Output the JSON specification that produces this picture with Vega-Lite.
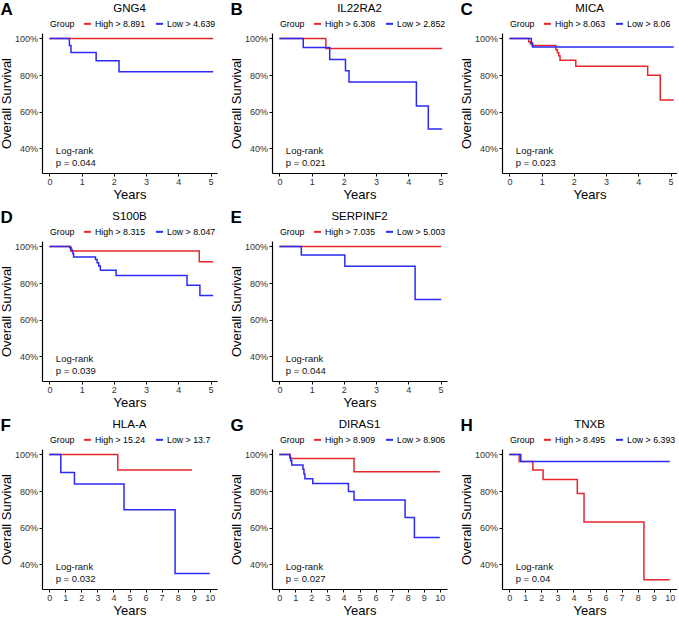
{
  "$schema": "https://vega.github.io/schema/vega-lite/v6.json",
  "background": "white",
  "padding": {"left": 0, "top": 0, "right": 0, "bottom": 0},
  "config": {
    "font": "Liberation Sans",
    "view": {"stroke": null},
    "axis": {"grid": false, "domainColor": "#000", "domainWidth": 1.2, "tickColor": "#000", "tickSize": 3, "labelFontSize": 9, "labelColor": "#333", "titleFontSize": 13, "titleFontWeight": "normal", "titleColor": "#000", "labelOverlap": false, "labelFlush": false},
    "axisX": {"titlePadding": 1.5, "labelPadding": 1.5},
    "axisY": {"titlePadding": 1, "labelPadding": 1.5},
    "title": {"fontSize": 11.5, "fontWeight": "normal", "offset": 5, "color": "#000"},
    "legend": {"direction": "horizontal", "titleOrient": "left", "titleFontSize": 8.8, "titleFontWeight": "normal", "labelFontSize": 8.8, "symbolType": "stroke", "symbolStrokeWidth": 2, "symbolSize": 49, "titlePadding": 8, "columnPadding": 6, "labelOffset": 3, "labelColor": "#000", "titleColor": "#000"},
    "concat": {"spacing": 13}
  },
  "resolve": {"scale": {"color": "independent"}, "legend": {"color": "independent"}},
  "spacing": 7,
  "vconcat": [
    {
      "resolve": {"scale": {"color": "independent"}, "legend": {"color": "independent"}},
      "hconcat": [
        {
          "title": {"text": "A", "anchor": "start", "fontSize": 17, "fontWeight": "bold", "offset": -16, "frame": "bounds"},
          "resolve": {"scale": {"color": "independent"}, "legend": {"color": "independent"}},
          "vconcat": [{
            "title": "GNG4", "width": 175, "height": 140,
            "layer": [
              {
                "data": {"values": [
                  {"time": 0, "surv": 1, "group": "High > 8.891"}, {"time": 5.08, "surv": 1, "group": "High > 8.891"},
                  {"time": 0, "surv": 1, "group": "Low > 4.639"}, {"time": 0.62, "surv": 0.962, "group": "Low > 4.639"}, {"time": 0.67, "surv": 0.924, "group": "Low > 4.639"}, {"time": 1.45, "surv": 0.878, "group": "Low > 4.639"}, {"time": 2.16, "surv": 0.818, "group": "Low > 4.639"}, {"time": 5.08, "surv": 0.818, "group": "Low > 4.639"}
                ]},
                "mark": {"type": "line", "interpolate": "step-after", "strokeWidth": 1.5},
                "encoding": {
                  "x": {"field": "time", "type": "quantitative", "title": "Years", "scale": {"domain": [-0.23, 5.2], "nice": false, "zero": false}, "axis": {"values": [0, 1, 2, 3, 4, 5], "format": "d"}},
                  "y": {"field": "surv", "type": "quantitative", "title": "Overall Survival", "scale": {"domain": [0.265, 1.03], "nice": false, "zero": false}, "axis": {"values": [0.4, 0.6, 0.8, 1.0], "format": ".0%"}},
                  "color": {"field": "group", "type": "nominal", "title": "Group", "scale": {"domain": ["High > 8.891", "Low > 4.639"], "range": ["#E8262B", "#2B2BF5"]}, "legend": {"orient": "none", "legendX": 8, "legendY": -14}}
                }
              },
              {
                "data": {"values": [{"note": "Log-rank\np = 0.044"}]},
                "mark": {"type": "text", "align": "left", "baseline": "top", "lineBreak": "\n", "fontSize": 9.5, "lineHeight": 12, "color": "#111"},
                "encoding": {"text": {"field": "note"},
                  "x": {"datum": 0.2, "type": "quantitative", "title": "Years", "axis": {"values": [0, 1, 2, 3, 4, 5], "format": "d"}},
                  "y": {"datum": 0.41, "type": "quantitative", "title": "Overall Survival", "axis": {"values": [0.4, 0.6, 0.8, 1.0], "format": ".0%"}}}
              }
            ]
          }]
        },
        {
          "title": {"text": "B", "anchor": "start", "fontSize": 17, "fontWeight": "bold", "offset": -16, "frame": "bounds"},
          "resolve": {"scale": {"color": "independent"}, "legend": {"color": "independent"}},
          "vconcat": [{
            "title": "IL22RA2", "width": 175, "height": 140,
            "layer": [
              {
                "data": {"values": [
                  {"time": 0, "surv": 1, "group": "High > 6.308"}, {"time": 1.44, "surv": 0.945, "group": "High > 6.308"}, {"time": 5.05, "surv": 0.945, "group": "High > 6.308"},
                  {"time": 0, "surv": 1, "group": "Low > 2.852"}, {"time": 0.74, "surv": 0.951, "group": "Low > 2.852"}, {"time": 1.56, "surv": 0.885, "group": "Low > 2.852"}, {"time": 2.05, "surv": 0.824, "group": "Low > 2.852"}, {"time": 2.16, "surv": 0.762, "group": "Low > 2.852"}, {"time": 4.25, "surv": 0.631, "group": "Low > 2.852"}, {"time": 4.62, "surv": 0.505, "group": "Low > 2.852"}, {"time": 5.05, "surv": 0.505, "group": "Low > 2.852"}
                ]},
                "mark": {"type": "line", "interpolate": "step-after", "strokeWidth": 1.5},
                "encoding": {
                  "x": {"field": "time", "type": "quantitative", "title": "Years", "scale": {"domain": [-0.23, 5.2], "nice": false, "zero": false}, "axis": {"values": [0, 1, 2, 3, 4, 5], "format": "d"}},
                  "y": {"field": "surv", "type": "quantitative", "title": "Overall Survival", "scale": {"domain": [0.265, 1.03], "nice": false, "zero": false}, "axis": {"values": [0.4, 0.6, 0.8, 1.0], "format": ".0%"}},
                  "color": {"field": "group", "type": "nominal", "title": "Group", "scale": {"domain": ["High > 6.308", "Low > 2.852"], "range": ["#E8262B", "#2B2BF5"]}, "legend": {"orient": "none", "legendX": 8, "legendY": -14}}
                }
              },
              {
                "data": {"values": [{"note": "Log-rank\np = 0.021"}]},
                "mark": {"type": "text", "align": "left", "baseline": "top", "lineBreak": "\n", "fontSize": 9.5, "lineHeight": 12, "color": "#111"},
                "encoding": {"text": {"field": "note"},
                  "x": {"datum": 0.2, "type": "quantitative", "title": "Years", "axis": {"values": [0, 1, 2, 3, 4, 5], "format": "d"}},
                  "y": {"datum": 0.41, "type": "quantitative", "title": "Overall Survival", "axis": {"values": [0.4, 0.6, 0.8, 1.0], "format": ".0%"}}}
              }
            ]
          }]
        },
        {
          "title": {"text": "C", "anchor": "start", "fontSize": 17, "fontWeight": "bold", "offset": -16, "frame": "bounds"},
          "resolve": {"scale": {"color": "independent"}, "legend": {"color": "independent"}},
          "vconcat": [{
            "title": "MICA", "width": 175, "height": 140,
            "layer": [
              {
                "data": {"values": [
                  {"time": 0, "surv": 1, "group": "High > 8.063"}, {"time": 0.6, "surv": 0.982, "group": "High > 8.063"}, {"time": 0.65, "surv": 0.971, "group": "High > 8.063"}, {"time": 0.7, "surv": 0.962, "group": "High > 8.063"}, {"time": 1.44, "surv": 0.939, "group": "High > 8.063"}, {"time": 1.49, "surv": 0.922, "group": "High > 8.063"}, {"time": 1.53, "surv": 0.906, "group": "High > 8.063"}, {"time": 1.57, "surv": 0.881, "group": "High > 8.063"}, {"time": 2.06, "surv": 0.848, "group": "High > 8.063"}, {"time": 4.29, "surv": 0.799, "group": "High > 8.063"}, {"time": 4.68, "surv": 0.664, "group": "High > 8.063"}, {"time": 5.1, "surv": 0.664, "group": "High > 8.063"},
                  {"time": 0, "surv": 1, "group": "Low > 8.06"}, {"time": 0.68, "surv": 0.976, "group": "Low > 8.06"}, {"time": 0.72, "surv": 0.953, "group": "Low > 8.06"}, {"time": 5.1, "surv": 0.953, "group": "Low > 8.06"}
                ]},
                "mark": {"type": "line", "interpolate": "step-after", "strokeWidth": 1.5},
                "encoding": {
                  "x": {"field": "time", "type": "quantitative", "title": "Years", "scale": {"domain": [-0.23, 5.2], "nice": false, "zero": false}, "axis": {"values": [0, 1, 2, 3, 4, 5], "format": "d"}},
                  "y": {"field": "surv", "type": "quantitative", "title": "Overall Survival", "scale": {"domain": [0.265, 1.03], "nice": false, "zero": false}, "axis": {"values": [0.4, 0.6, 0.8, 1.0], "format": ".0%"}},
                  "color": {"field": "group", "type": "nominal", "title": "Group", "scale": {"domain": ["High > 8.063", "Low > 8.06"], "range": ["#E8262B", "#2B2BF5"]}, "legend": {"orient": "none", "legendX": 8, "legendY": -14}}
                }
              },
              {
                "data": {"values": [{"note": "Log-rank\np = 0.023"}]},
                "mark": {"type": "text", "align": "left", "baseline": "top", "lineBreak": "\n", "fontSize": 9.5, "lineHeight": 12, "color": "#111"},
                "encoding": {"text": {"field": "note"},
                  "x": {"datum": 0.2, "type": "quantitative", "title": "Years", "axis": {"values": [0, 1, 2, 3, 4, 5], "format": "d"}},
                  "y": {"datum": 0.41, "type": "quantitative", "title": "Overall Survival", "axis": {"values": [0.4, 0.6, 0.8, 1.0], "format": ".0%"}}}
              }
            ]
          }]
        }
      ]
    },
    {
      "resolve": {"scale": {"color": "independent"}, "legend": {"color": "independent"}},
      "hconcat": [
        {
          "title": {"text": "D", "anchor": "start", "fontSize": 17, "fontWeight": "bold", "offset": -16, "frame": "bounds"},
          "resolve": {"scale": {"color": "independent"}, "legend": {"color": "independent"}},
          "vconcat": [{
            "title": "S100B", "width": 175, "height": 140,
            "layer": [
              {
                "data": {"values": [
                  {"time": 0, "surv": 1, "group": "High > 8.315"}, {"time": 0.66, "surv": 0.976, "group": "High > 8.315"}, {"time": 4.65, "surv": 0.917, "group": "High > 8.315"}, {"time": 5.08, "surv": 0.917, "group": "High > 8.315"},
                  {"time": 0, "surv": 1, "group": "Low > 8.047"}, {"time": 0.63, "surv": 0.993, "group": "Low > 8.047"}, {"time": 0.67, "surv": 0.984, "group": "Low > 8.047"}, {"time": 0.7, "surv": 0.975, "group": "Low > 8.047"}, {"time": 0.73, "surv": 0.96, "group": "Low > 8.047"}, {"time": 0.75, "surv": 0.942, "group": "Low > 8.047"}, {"time": 1.43, "surv": 0.929, "group": "Low > 8.047"}, {"time": 1.48, "surv": 0.911, "group": "Low > 8.047"}, {"time": 1.53, "surv": 0.893, "group": "Low > 8.047"}, {"time": 1.58, "surv": 0.87, "group": "Low > 8.047"}, {"time": 2.07, "surv": 0.842, "group": "Low > 8.047"}, {"time": 4.27, "surv": 0.788, "group": "Low > 8.047"}, {"time": 4.67, "surv": 0.732, "group": "Low > 8.047"}, {"time": 5.08, "surv": 0.732, "group": "Low > 8.047"}
                ]},
                "mark": {"type": "line", "interpolate": "step-after", "strokeWidth": 1.5},
                "encoding": {
                  "x": {"field": "time", "type": "quantitative", "title": "Years", "scale": {"domain": [-0.23, 5.2], "nice": false, "zero": false}, "axis": {"values": [0, 1, 2, 3, 4, 5], "format": "d"}},
                  "y": {"field": "surv", "type": "quantitative", "title": "Overall Survival", "scale": {"domain": [0.265, 1.03], "nice": false, "zero": false}, "axis": {"values": [0.4, 0.6, 0.8, 1.0], "format": ".0%"}},
                  "color": {"field": "group", "type": "nominal", "title": "Group", "scale": {"domain": ["High > 8.315", "Low > 8.047"], "range": ["#E8262B", "#2B2BF5"]}, "legend": {"orient": "none", "legendX": 8, "legendY": -14}}
                }
              },
              {
                "data": {"values": [{"note": "Log-rank\np = 0.039"}]},
                "mark": {"type": "text", "align": "left", "baseline": "top", "lineBreak": "\n", "fontSize": 9.5, "lineHeight": 12, "color": "#111"},
                "encoding": {"text": {"field": "note"},
                  "x": {"datum": 0.2, "type": "quantitative", "title": "Years", "axis": {"values": [0, 1, 2, 3, 4, 5], "format": "d"}},
                  "y": {"datum": 0.41, "type": "quantitative", "title": "Overall Survival", "axis": {"values": [0.4, 0.6, 0.8, 1.0], "format": ".0%"}}}
              }
            ]
          }]
        },
        {
          "title": {"text": "E", "anchor": "start", "fontSize": 17, "fontWeight": "bold", "offset": -16, "frame": "bounds"},
          "resolve": {"scale": {"color": "independent"}, "legend": {"color": "independent"}},
          "vconcat": [{
            "title": "SERPINF2", "width": 175, "height": 140,
            "layer": [
              {
                "data": {"values": [
                  {"time": 0, "surv": 1, "group": "High > 7.035"}, {"time": 5.02, "surv": 1, "group": "High > 7.035"},
                  {"time": 0, "surv": 1, "group": "Low > 5.003"}, {"time": 0.68, "surv": 0.954, "group": "Low > 5.003"}, {"time": 2.03, "surv": 0.892, "group": "Low > 5.003"}, {"time": 4.21, "surv": 0.71, "group": "Low > 5.003"}, {"time": 5.02, "surv": 0.71, "group": "Low > 5.003"}
                ]},
                "mark": {"type": "line", "interpolate": "step-after", "strokeWidth": 1.5},
                "encoding": {
                  "x": {"field": "time", "type": "quantitative", "title": "Years", "scale": {"domain": [-0.23, 5.2], "nice": false, "zero": false}, "axis": {"values": [0, 1, 2, 3, 4, 5], "format": "d"}},
                  "y": {"field": "surv", "type": "quantitative", "title": "Overall Survival", "scale": {"domain": [0.265, 1.03], "nice": false, "zero": false}, "axis": {"values": [0.4, 0.6, 0.8, 1.0], "format": ".0%"}},
                  "color": {"field": "group", "type": "nominal", "title": "Group", "scale": {"domain": ["High > 7.035", "Low > 5.003"], "range": ["#E8262B", "#2B2BF5"]}, "legend": {"orient": "none", "legendX": 8, "legendY": -14}}
                }
              },
              {
                "data": {"values": [{"note": "Log-rank\np = 0.044"}]},
                "mark": {"type": "text", "align": "left", "baseline": "top", "lineBreak": "\n", "fontSize": 9.5, "lineHeight": 12, "color": "#111"},
                "encoding": {"text": {"field": "note"},
                  "x": {"datum": 0.2, "type": "quantitative", "title": "Years", "axis": {"values": [0, 1, 2, 3, 4, 5], "format": "d"}},
                  "y": {"datum": 0.41, "type": "quantitative", "title": "Overall Survival", "axis": {"values": [0.4, 0.6, 0.8, 1.0], "format": ".0%"}}}
              }
            ]
          }]
        }
      ]
    },
    {
      "resolve": {"scale": {"color": "independent"}, "legend": {"color": "independent"}},
      "hconcat": [
        {
          "title": {"text": "F", "anchor": "start", "fontSize": 17, "fontWeight": "bold", "offset": -16, "frame": "bounds"},
          "resolve": {"scale": {"color": "independent"}, "legend": {"color": "independent"}},
          "vconcat": [{
            "title": "HLA-A", "width": 175, "height": 140,
            "layer": [
              {
                "data": {"values": [
                  {"time": 0, "surv": 1, "group": "High > 15.24"}, {"time": 4.27, "surv": 0.915, "group": "High > 15.24"}, {"time": 8.9, "surv": 0.915, "group": "High > 15.24"},
                  {"time": 0, "surv": 1, "group": "Low > 13.7"}, {"time": 0.72, "surv": 0.902, "group": "Low > 13.7"}, {"time": 1.57, "surv": 0.839, "group": "Low > 13.7"}, {"time": 4.66, "surv": 0.698, "group": "Low > 13.7"}, {"time": 7.84, "surv": 0.35, "group": "Low > 13.7"}, {"time": 10.0, "surv": 0.35, "group": "Low > 13.7"}
                ]},
                "mark": {"type": "line", "interpolate": "step-after", "strokeWidth": 1.5},
                "encoding": {
                  "x": {"field": "time", "type": "quantitative", "title": "Years", "scale": {"domain": [-0.45, 10.45], "nice": false, "zero": false}, "axis": {"values": [0, 1, 2, 3, 4, 5, 6, 7, 8, 9, 10], "format": "d"}},
                  "y": {"field": "surv", "type": "quantitative", "title": "Overall Survival", "scale": {"domain": [0.265, 1.03], "nice": false, "zero": false}, "axis": {"values": [0.4, 0.6, 0.8, 1.0], "format": ".0%"}},
                  "color": {"field": "group", "type": "nominal", "title": "Group", "scale": {"domain": ["High > 15.24", "Low > 13.7"], "range": ["#E8262B", "#2B2BF5"]}, "legend": {"orient": "none", "legendX": 8, "legendY": -14}}
                }
              },
              {
                "data": {"values": [{"note": "Log-rank\np = 0.032"}]},
                "mark": {"type": "text", "align": "left", "baseline": "top", "lineBreak": "\n", "fontSize": 9.5, "lineHeight": 12, "color": "#111"},
                "encoding": {"text": {"field": "note"},
                  "x": {"datum": 0.4, "type": "quantitative", "title": "Years", "axis": {"values": [0, 1, 2, 3, 4, 5, 6, 7, 8, 9, 10], "format": "d"}},
                  "y": {"datum": 0.41, "type": "quantitative", "title": "Overall Survival", "axis": {"values": [0.4, 0.6, 0.8, 1.0], "format": ".0%"}}}
              }
            ]
          }]
        },
        {
          "title": {"text": "G", "anchor": "start", "fontSize": 17, "fontWeight": "bold", "offset": -16, "frame": "bounds"},
          "resolve": {"scale": {"color": "independent"}, "legend": {"color": "independent"}},
          "vconcat": [{
            "title": "DIRAS1", "width": 175, "height": 140,
            "layer": [
              {
                "data": {"values": [
                  {"time": 0, "surv": 1, "group": "High > 8.909"}, {"time": 0.68, "surv": 0.978, "group": "High > 8.909"}, {"time": 4.66, "surv": 0.906, "group": "High > 8.909"}, {"time": 10.0, "surv": 0.906, "group": "High > 8.909"},
                  {"time": 0, "surv": 1, "group": "Low > 8.906"}, {"time": 0.66, "surv": 0.984, "group": "Low > 8.906"}, {"time": 0.72, "surv": 0.966, "group": "Low > 8.906"}, {"time": 0.78, "surv": 0.942, "group": "Low > 8.906"}, {"time": 1.48, "surv": 0.92, "group": "Low > 8.906"}, {"time": 1.54, "surv": 0.893, "group": "Low > 8.906"}, {"time": 1.6, "surv": 0.868, "group": "Low > 8.906"}, {"time": 2.09, "surv": 0.841, "group": "Low > 8.906"}, {"time": 4.31, "surv": 0.798, "group": "Low > 8.906"}, {"time": 4.66, "surv": 0.751, "group": "Low > 8.906"}, {"time": 7.84, "surv": 0.656, "group": "Low > 8.906"}, {"time": 8.42, "surv": 0.547, "group": "Low > 8.906"}, {"time": 10.0, "surv": 0.547, "group": "Low > 8.906"}
                ]},
                "mark": {"type": "line", "interpolate": "step-after", "strokeWidth": 1.5},
                "encoding": {
                  "x": {"field": "time", "type": "quantitative", "title": "Years", "scale": {"domain": [-0.45, 10.45], "nice": false, "zero": false}, "axis": {"values": [0, 1, 2, 3, 4, 5, 6, 7, 8, 9, 10], "format": "d"}},
                  "y": {"field": "surv", "type": "quantitative", "title": "Overall Survival", "scale": {"domain": [0.265, 1.03], "nice": false, "zero": false}, "axis": {"values": [0.4, 0.6, 0.8, 1.0], "format": ".0%"}},
                  "color": {"field": "group", "type": "nominal", "title": "Group", "scale": {"domain": ["High > 8.909", "Low > 8.906"], "range": ["#E8262B", "#2B2BF5"]}, "legend": {"orient": "none", "legendX": 8, "legendY": -14}}
                }
              },
              {
                "data": {"values": [{"note": "Log-rank\np = 0.027"}]},
                "mark": {"type": "text", "align": "left", "baseline": "top", "lineBreak": "\n", "fontSize": 9.5, "lineHeight": 12, "color": "#111"},
                "encoding": {"text": {"field": "note"},
                  "x": {"datum": 0.4, "type": "quantitative", "title": "Years", "axis": {"values": [0, 1, 2, 3, 4, 5, 6, 7, 8, 9, 10], "format": "d"}},
                  "y": {"datum": 0.41, "type": "quantitative", "title": "Overall Survival", "axis": {"values": [0.4, 0.6, 0.8, 1.0], "format": ".0%"}}}
              }
            ]
          }]
        },
        {
          "title": {"text": "H", "anchor": "start", "fontSize": 17, "fontWeight": "bold", "offset": -16, "frame": "bounds"},
          "resolve": {"scale": {"color": "independent"}, "legend": {"color": "independent"}},
          "vconcat": [{
            "title": "TNXB", "width": 175, "height": 140,
            "layer": [
              {
                "data": {"values": [
                  {"time": 0, "surv": 1, "group": "High > 8.495"}, {"time": 0.62, "surv": 0.962, "group": "High > 8.495"}, {"time": 1.47, "surv": 0.915, "group": "High > 8.495"}, {"time": 2.11, "surv": 0.864, "group": "High > 8.495"}, {"time": 4.24, "surv": 0.787, "group": "High > 8.495"}, {"time": 4.66, "surv": 0.631, "group": "High > 8.495"}, {"time": 8.39, "surv": 0.315, "group": "High > 8.495"}, {"time": 10.0, "surv": 0.315, "group": "High > 8.495"},
                  {"time": 0, "surv": 1, "group": "Low > 6.393"}, {"time": 0.72, "surv": 0.962, "group": "Low > 6.393"}, {"time": 10.0, "surv": 0.962, "group": "Low > 6.393"}
                ]},
                "mark": {"type": "line", "interpolate": "step-after", "strokeWidth": 1.5},
                "encoding": {
                  "x": {"field": "time", "type": "quantitative", "title": "Years", "scale": {"domain": [-0.45, 10.45], "nice": false, "zero": false}, "axis": {"values": [0, 1, 2, 3, 4, 5, 6, 7, 8, 9, 10], "format": "d"}},
                  "y": {"field": "surv", "type": "quantitative", "title": "Overall Survival", "scale": {"domain": [0.265, 1.03], "nice": false, "zero": false}, "axis": {"values": [0.4, 0.6, 0.8, 1.0], "format": ".0%"}},
                  "color": {"field": "group", "type": "nominal", "title": "Group", "scale": {"domain": ["High > 8.495", "Low > 6.393"], "range": ["#E8262B", "#2B2BF5"]}, "legend": {"orient": "none", "legendX": 8, "legendY": -14}}
                }
              },
              {
                "data": {"values": [{"note": "Log-rank\np = 0.04"}]},
                "mark": {"type": "text", "align": "left", "baseline": "top", "lineBreak": "\n", "fontSize": 9.5, "lineHeight": 12, "color": "#111"},
                "encoding": {"text": {"field": "note"},
                  "x": {"datum": 0.4, "type": "quantitative", "title": "Years", "axis": {"values": [0, 1, 2, 3, 4, 5, 6, 7, 8, 9, 10], "format": "d"}},
                  "y": {"datum": 0.41, "type": "quantitative", "title": "Overall Survival", "axis": {"values": [0.4, 0.6, 0.8, 1.0], "format": ".0%"}}}
              }
            ]
          }]
        }
      ]
    }
  ]
}
